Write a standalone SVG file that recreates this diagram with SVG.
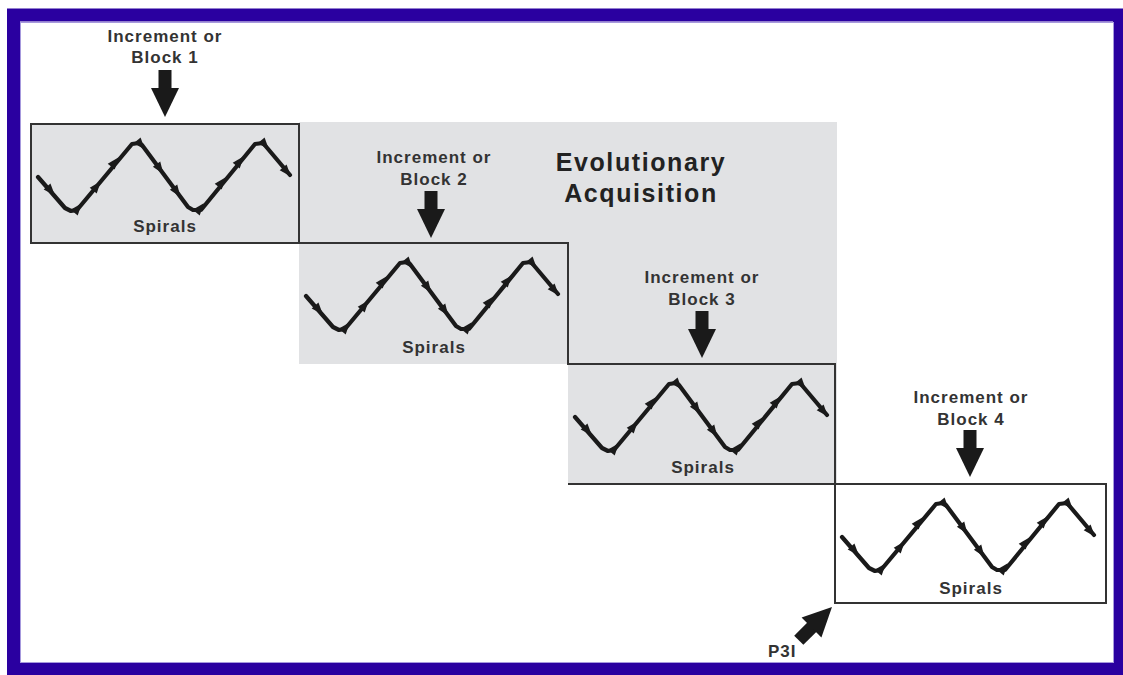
<svg xmlns="http://www.w3.org/2000/svg" xmlns:xlink="http://www.w3.org/1999/xlink" width="1123" height="675" viewBox="0 0 1123 675">
<style>
.lbl{font-family:"Liberation Sans",Arial,sans-serif;font-size:17px;font-weight:bold;fill:#333;letter-spacing:1px;text-anchor:middle}
.title{font-family:"Liberation Sans",Arial,sans-serif;font-size:25px;font-weight:bold;fill:#222;letter-spacing:1.6px;text-anchor:middle}
.box{fill:#e1e2e4;stroke:#333;stroke-width:2}
.edge{fill:none;stroke:#333;stroke-width:2}
.wave{fill:none;stroke:#1a1a1a;stroke-width:4.2;stroke-linejoin:round;stroke-linecap:round}
.ah{fill:#1a1a1a}
.big{fill:#1a1a1a}
</style>
<defs>
<path id="ah" d="M6,0 L-6,-4.5 L-6,4.5 Z"/>
<g id="bigarrow">
<rect x="-6.5" y="-47" width="13" height="19"/>
<path d="M-14,-29 L14,-29 L0,0 Z"/>
</g>
<g id="wave">
<polyline class="wave" points="7,53 34,84 40,87 46,86 101,20 108,19 111,21 157,83 162,86 170,86 224,20 232,19 259,51"/>
<g class="ah">
<use xlink:href="#ah" transform="translate(20,67) rotate(49)"/>
<use xlink:href="#ah" transform="translate(47,84) rotate(-51)"/>
<use xlink:href="#ah" transform="translate(66,62) rotate(-51)"/>
<use xlink:href="#ah" transform="translate(84,38) rotate(-51)"/>
<use xlink:href="#ah" transform="translate(110,21) rotate(50)"/>
<use xlink:href="#ah" transform="translate(129,45) rotate(55)"/>
<use xlink:href="#ah" transform="translate(146,68) rotate(55)"/>
<use xlink:href="#ah" transform="translate(169,84) rotate(-51)"/>
<use xlink:href="#ah" transform="translate(191,58) rotate(-51)"/>
<use xlink:href="#ah" transform="translate(209,37) rotate(-51)"/>
<use xlink:href="#ah" transform="translate(234,21) rotate(50)"/>
<use xlink:href="#ah" transform="translate(256,48) rotate(50)"/>
</g>
</g>
</defs>
<rect width="1123" height="675" fill="#ffffff"/>
<g id="frame">
<rect x="13.5" y="15" width="1106" height="654" fill="none" stroke="#2a00a0" stroke-width="13"/>
<rect x="20.5" y="22.5" width="1093" height="640" fill="none" stroke="#a699dd" stroke-width="1"/>
</g>
<g id="background">
<polygon points="299,122 837,122 837,484 568,484 568,364 299,364" fill="#e1e2e4"/>
</g>
<g id="title">
<text class="title" x="641" y="171">Evolutionary</text>
<text class="title" x="641" y="202">Acquisition</text>
</g>
<g id="connectors">
<polyline class="edge" points="299,243 568,243 568,364 835,364 835,484"/>
<line class="edge" x1="568" y1="484" x2="835" y2="484"/>
<g class="big">
<use xlink:href="#bigarrow" transform="translate(165,117)"/>
<use xlink:href="#bigarrow" transform="translate(431,238)"/>
<use xlink:href="#bigarrow" transform="translate(702,358)"/>
<use xlink:href="#bigarrow" transform="translate(970,477)"/>
<use xlink:href="#bigarrow" transform="translate(832,607) rotate(-135)"/>
</g>
</g>
<g id="block1">
<rect class="box" x="31" y="124" width="268" height="119"/>
<use xlink:href="#wave" transform="translate(31,124)"/>
<text class="lbl" x="165" y="232">Spirals</text>
<text class="lbl" x="165" y="42">Increment or</text>
<text class="lbl" x="165" y="63">Block 1</text>
</g>
<g id="block2">
<use xlink:href="#wave" transform="translate(299,243)"/>
<text class="lbl" x="434" y="353">Spirals</text>
<text class="lbl" x="434" y="163">Increment or</text>
<text class="lbl" x="434" y="185">Block 2</text>
</g>
<g id="block3">
<use xlink:href="#wave" transform="translate(568,364)"/>
<text class="lbl" x="703" y="473">Spirals</text>
<text class="lbl" x="702" y="283">Increment or</text>
<text class="lbl" x="702" y="305">Block 3</text>
</g>
<g id="block4">
<rect x="835" y="484" width="271" height="119" fill="none" stroke="#333" stroke-width="2"/>
<use xlink:href="#wave" transform="translate(835,484)"/>
<text class="lbl" x="971" y="594">Spirals</text>
<text class="lbl" x="971" y="403">Increment or</text>
<text class="lbl" x="971" y="425">Block 4</text>
</g>
<g id="p3i">
<text class="lbl" x="768" y="657" style="text-anchor:start">P3I</text>
</g>
</svg>
